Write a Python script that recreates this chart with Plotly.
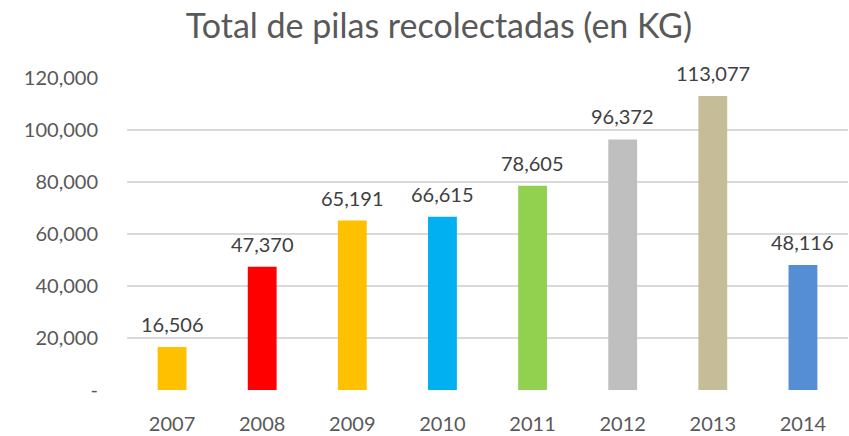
import plotly.graph_objects as go

years = ["2007", "2008", "2009", "2010", "2011", "2012", "2013", "2014"]
values = [16506, 47370, 65191, 66615, 78605, 96372, 113077, 48116]
colors = ["#FFC000", "#FF0000", "#FFC000", "#00B0F0", "#92D050", "#BFBFBF", "#C4BD97", "#558ED5"]
ytick_vals = [0, 20000, 40000, 60000, 80000, 100000, 120000]
ytick_text = ["-", "20,000", "40,000", "60,000", "80,000", "100,000", "120,000"]
title = "Total de pilas recolectadas (en KG)"

font = "Lato, 'Open Sans', sans-serif"

fig = go.Figure(go.Bar(
    x=years, y=values,
    marker=dict(color=colors, line=dict(width=0)),
    cliponaxis=False,
))

for i, v in enumerate(values):
    fig.add_annotation(x=i, y=v, xref="x", yref="y", text=f"{v:,}", showarrow=False,
                       yanchor="bottom", yshift=9,
                       font=dict(size=20, color="#404040", family=font))

fig.update_layout(
    width=849, height=436,
    margin=dict(l=127, r=1, t=78, b=44),
    paper_bgcolor="white", plot_bgcolor="white",
    bargap=0.68,
    showlegend=False,
    title=dict(text=title, x=0.517, xanchor="center", y=0.94, yanchor="middle",
               font=dict(size=34, color="#595959", family=font)),
    font=dict(family=font),
)
fig.update_xaxes(type="category", range=[-0.5, 7.5], showgrid=False, showline=False,
                 ticks="", ticklabelstandoff=20,
                 tickfont=dict(size=20, color="#595959", family=font))
fig.update_yaxes(range=[0, 120000], tickvals=ytick_vals, ticktext=ytick_text,
                 showgrid=True, gridcolor="#D9D9D9", gridwidth=1.5, zeroline=False,
                 showline=False, ticks="", ticklabelstandoff=28,
                 tickfont=dict(size=20, color="#595959", family=font))

fig.write_html("out.html")
